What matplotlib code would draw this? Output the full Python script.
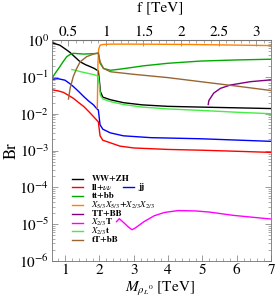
import numpy as np
import matplotlib
matplotlib.use("Agg")
import matplotlib.pyplot as plt
from matplotlib.lines import Line2D
from matplotlib.ticker import LogLocator, LogFormatterMathtext, MultipleLocator, NullFormatter

plt.rcParams['font.family'] = ['STIXGeneral', 'DejaVu Serif']
plt.rcParams['mathtext.fontset'] = 'stix'

# ---------------- data (M in TeV, log10 Br) ----------------
ww_M = [0.61, 0.85, 1.05, 1.15, 1.3, 1.44, 1.6, 1.73, 1.85, 1.97, 2.0, 2.03, 2.1, 2.32, 2.7, 3.25, 4.0, 4.95, 6.0, 7.0]
ww_logBr = [-0.07, -0.14, -0.27, -0.34, -0.47, -0.59, -0.67, -0.72, -0.77, -0.84, -1.1, -1.4, -1.55, -1.62, -1.7, -1.76, -1.8, -1.82, -1.84, -1.86]

ll_M = [0.61, 0.8, 0.95, 1.1, 1.24, 1.4, 1.54, 1.7, 1.85, 1.93, 1.97, 2.02, 2.1, 2.32, 2.6, 3.0, 4.0, 4.95, 6.0, 7.0]
ll_logBr = [-1.35, -1.38, -1.42, -1.5, -1.58, -1.7, -1.8, -1.95, -2.1, -2.18, -2.22, -2.6, -2.72, -2.79, -2.88, -2.93, -2.97, -2.99, -3.02, -3.05]

jj_M = [0.61, 0.8, 1.0, 1.12, 1.24, 1.4, 1.54, 1.68, 1.83, 1.93, 1.97, 2.02, 2.1, 2.32, 2.7, 3.5, 4.95, 7.0]
jj_logBr = [-1.06, -1.05, -1.09, -1.17, -1.26, -1.4, -1.53, -1.65, -1.76, -1.87, -1.9, -2.3, -2.42, -2.52, -2.6, -2.65, -2.68, -2.75]

ttbb_M = [0.61, 0.7, 0.85, 0.95, 1.05, 1.15, 1.24, 1.54, 1.8, 1.97, 2.02, 2.12, 2.32, 2.6, 3.28, 4.0, 4.95, 6.0, 7.0]
ttbb_logBr = [-1.05, -0.92, -0.72, -0.58, -0.45, -0.39, -0.36, -0.38, -0.37, -0.36, -0.63, -0.77, -0.82, -0.79, -0.70, -0.63, -0.57, -0.54, -0.52]

xx_M = [1.94, 1.95, 1.96, 1.98, 2.02, 2.1, 2.32, 3.0, 4.65, 7.0]
xx_logBr = [-1.85, -1.2, -0.6, -0.25, -0.14, -0.12, -0.11, -0.11, -0.12, -0.15]

TTBB_M = [5.17, 5.19, 5.33, 5.53, 5.82, 6.4, 7.0]
TTBB_logBr = [-1.75, -1.64, -1.44, -1.31, -1.22, -1.13, -1.08]

X23T_M = [2.5, 2.58, 2.7, 2.85, 2.95, 3.05, 3.3, 3.6, 3.9, 4.3, 4.8, 5.2, 5.9, 7.0]
X23T_logBr = [-4.93, -4.85, -4.95, -5.08, -5.15, -5.1, -4.93, -4.77, -4.68, -4.63, -4.64, -4.67, -4.76, -4.86]

X23t_M = [1.2, 1.3, 1.5, 1.7, 1.85, 1.97, 2.0, 2.03, 2.1, 2.32, 2.7, 3.25, 4.0, 4.95, 6.0, 7.0]
X23t_logBr = [-0.8, -0.82, -0.87, -0.91, -0.94, -0.98, -1.25, -1.5, -1.6, -1.67, -1.75, -1.82, -1.87, -1.91, -1.96, -2.0]

tTbB_M = [1.1, 1.15, 1.24, 1.34, 1.44, 1.63, 1.83, 1.97, 2.02, 2.12, 2.32, 3.0, 4.0, 4.95, 6.0, 7.0]
tTbB_logBr = [-1.6, -1.3, -0.99, -0.77, -0.59, -0.45, -0.38, -0.35, -0.59, -0.77, -0.86, -0.93, -1.02, -1.13, -1.25, -1.37]

f_ticks = [0.5, 1, 1.5, 2, 2.5, 3]
f_ticklabels = ['0.5', '1', '1.5', '2', '2.5', '3']
x_ticks = [1, 2, 3, 4, 5, 6, 7]
M_per_f = 2.19

labels = ['WW+ZH', r'll+$\mathit{\nu\nu}$', 'jj', 'tt+bb',
          r'$X_{5/3}X_{5/3}$+$X_{2/3}X_{2/3}$', 'TT+BB', r'$X_{2/3}$T', r'$X_{2/3}$t', 'tT+bB']
colors = ['black', '#ff0000', '#0000ff', '#00aa00', '#ff8000', '#800080', '#ff00ff', '#44ee44', '#996633']
xs = [ww_M, ll_M, jj_M, ttbb_M, xx_M, TTBB_M, X23T_M, X23t_M, tTbB_M]
ys = [ww_logBr, ll_logBr, jj_logBr, ttbb_logBr, xx_logBr, TTBB_logBr, X23T_logBr, X23t_logBr, tTbB_logBr]

# ---------------- figure ----------------
W, H = 278, 299
fig = plt.figure(figsize=(W / 100, H / 100), dpi=100)
ax = fig.add_axes([0.187, 0.127, 0.788, 0.739])

for M, lb, c in zip(xs, ys, colors):
    ax.plot(M, 10 ** np.array(lb), color=c, lw=1.0)

ax.set_yscale('log')
ax.set_xlim(0.62, 7.0)
ax.set_ylim(1e-6, 1.0)

ax.yaxis.set_major_locator(LogLocator(base=10, numticks=10))
ax.yaxis.set_major_formatter(LogFormatterMathtext())
ax.yaxis.set_minor_locator(LogLocator(base=10, subs=np.arange(2, 10), numticks=10))
ax.yaxis.set_minor_formatter(NullFormatter())
ax.set_xticks(x_ticks)
ax.xaxis.set_minor_locator(MultipleLocator(0.2))

tick_col = '0.55'
for s in ax.spines.values():
    s.set_color('0.45')
    s.set_linewidth(0.6)
ax.tick_params(which='both', direction='in', top=False, right=True, color=tick_col, labelsize=11, pad=2)
ax.tick_params(which='major', length=4, width=0.6)
ax.tick_params(which='minor', length=2, width=0.5)

sec = ax.secondary_xaxis('top', functions=(lambda m: m / M_per_f, lambda f: f * M_per_f))
sec.set_xticks(f_ticks)
sec.set_xticklabels(f_ticklabels)
sec.xaxis.set_minor_locator(MultipleLocator(0.1))
sec.tick_params(which='both', direction='in', color=tick_col, labelsize=11, pad=1)
sec.tick_params(which='major', length=4, width=0.6)
sec.tick_params(which='minor', length=2, width=0.5)
sec.spines['top'].set_color('0.45')

ax.set_ylabel('Br', fontsize=12, labelpad=0)
fig.text(160 / W, 1 - 0.5 / H, 'f [TeV]', fontsize=11, ha='center', va='top')
fig.text(160 / W, 1.5 / H, r'$M_{\rho_L{}^0}$ [TeV]', fontsize=11, ha='center', va='bottom')

# manual legend (axes coordinates)
def ax_x(px):
    return (px - 52) / 219.0

def ax_y(py):
    return (261 - py) / 221.0

rows = [0, 1, 1, 2, 3, 4, 5, 6, 7]
cols = [0, 0, 1, 0, 0, 0, 0, 0, 0]
for lab, c, r, col in zip(labels, colors, rows, cols):
    yy = ax_y(178.5 + 8.8 * r)
    if col == 0:
        x0, x1, xt = 72.5, 83.5, 91.5
    else:
        x0, x1, xt = 123, 134, 138
    ax.add_line(Line2D([ax_x(x0), ax_x(x1)], [yy, yy], color=c, lw=1.0, transform=ax.transAxes))
    ax.text(ax_x(xt), yy, lab, transform=ax.transAxes, fontsize=6.5, fontweight='bold',
            va='center', ha='left')

fig.savefig('out.png', dpi=100)
